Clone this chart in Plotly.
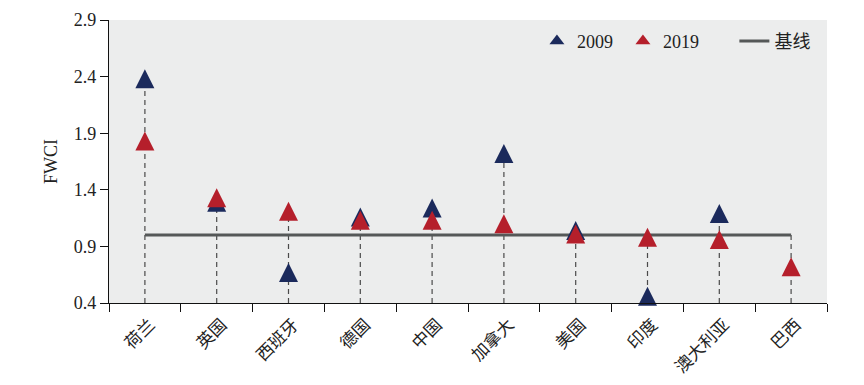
import plotly.graph_objects as go

categories = ["荷兰", "英国", "西班牙", "德国", "中国", "加拿大", "美国", "印度", "澳大利亚", "巴西"]
fwci_2009 = [2.38, 1.29, 0.67, 1.16, 1.24, 1.72, 1.04, 0.46, 1.19, None]
fwci_2019 = [1.83, 1.33, 1.21, 1.13, 1.13, 1.10, 1.01, 0.98, 0.96, 0.72]
baseline_value = 1.0
y_min, y_max = 0.4, 2.9
y_ticks = [0.4, 0.9, 1.4, 1.9, 2.4, 2.9]

NAVY = "#1b2a5c"
RED = "#b51f2b"
GREY = "#555858"
SERIF = "Liberation Serif, Times New Roman, Noto Sans CJK SC, serif"
CJK = "Noto Sans CJK SC, Liberation Serif, serif"

# vertical dashed guide lines from the axis floor up to the highest mark
vx, vy = [], []
for c, a, b in zip(categories, fwci_2009, fwci_2019):
    vals = [v for v in (a, b) if v is not None]
    top = max(vals)
    if a is None:
        top = max(top, baseline_value)
    vx += [c, c, None]
    vy += [y_min, top, None]

SIZE = 19
def tri(color, size=SIZE):
    return dict(symbol="arrow-down", angle=180, standoff=size / 2, size=size, color=color,
                line=dict(width=0))

fig = go.Figure()
fig.add_trace(go.Scatter(x=vx, y=vy, mode="lines", showlegend=False, hoverinfo="skip",
                         line=dict(color="#4a4a4a", width=1.2, dash="5px,4px")))
fig.add_trace(go.Scatter(x=[categories[0], categories[-1]], y=[baseline_value, baseline_value],
                         mode="lines", name="基线", legend="legend2",
                         line=dict(color=GREY, width=3)))
fig.add_trace(go.Scatter(x=categories, y=fwci_2009, mode="markers", name="2009",
                         showlegend=False, marker=tri(NAVY), cliponaxis=False))
fig.add_trace(go.Scatter(x=categories, y=fwci_2019, mode="markers", name="2019",
                         showlegend=False, marker=tri(RED), cliponaxis=False))
# legend entries for the two marker series
fig.add_trace(go.Scatter(x=[None], y=[None], mode="markers", name="2009", legendrank=1,
                         marker=dict(symbol="triangle-up", size=13, color=NAVY, line=dict(width=0))))
fig.add_trace(go.Scatter(x=[None], y=[None], mode="markers", name="2019", legendrank=2,
                         marker=dict(symbol="triangle-up", size=13, color=RED, line=dict(width=0))))

legend_font = dict(family=SERIF, size=18, color="#222")
# the page body has an 8px margin; compensate so the plot lands where the reference does
fig.update_layout(
    width=856, height=377,
    margin=dict(l=101, r=37, t=11.5, b=81.5, autoexpand=False),
    paper_bgcolor="white", plot_bgcolor="#eceded",
    font=dict(family=SERIF, size=18, color="#222"),
    legend=dict(orientation="h", x=0.596, xanchor="left", y=0.925, yanchor="middle",
                bgcolor="rgba(0,0,0,0)", entrywidth=41, font=legend_font),
    legend2=dict(orientation="h", x=0.871, xanchor="left", y=0.925, yanchor="middle",
                 bgcolor="rgba(0,0,0,0)", font=legend_font),
    showlegend=True,
)
fig.update_xaxes(type="category", categoryorder="array", categoryarray=categories,
                 range=[-0.5, 9.5], tickson="boundaries", ticks="outside", ticklen=8,
                 tickcolor="#111", showline=True, linecolor="#111", linewidth=1.2,
                 showgrid=False, tickangle=-45, tickfont=dict(family=CJK, size=17, color="#222"),
                 ticklabelstandoff=4, ticklabelshift=5,
                 zeroline=False, automargin=False)
fig.update_yaxes(range=[y_min, y_max], tickvals=y_ticks, ticktext=[f"{v:.1f}" for v in y_ticks],
                 ticks="outside", ticklen=8, tickcolor="#111", showline=True, linecolor="#111",
                 linewidth=1.2, showgrid=False, zeroline=False, automargin=False,
                 title=dict(text="FWCI", font=dict(family=SERIF, size=18, color="#222"), standoff=11),
                 tickfont=dict(family=SERIF, size=18, color="#222"))

fig.write_html("out.html")
